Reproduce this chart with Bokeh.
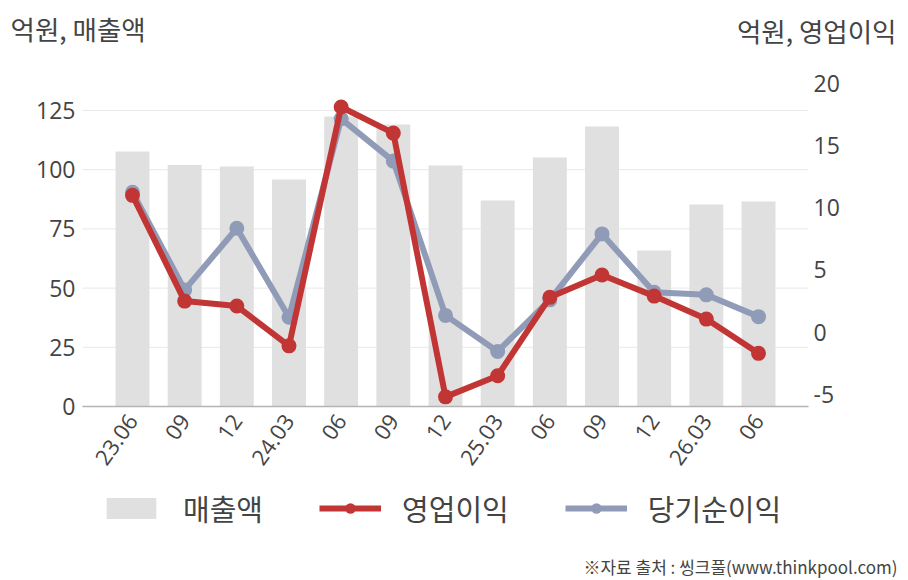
from bokeh.plotting import figure
from bokeh.models import (Range1d, LinearAxis, FixedTicker, Legend, LegendItem,
                          Label)
from bokeh.embed import file_html
from bokeh.resources import INLINE

# ---- data ----
quarters = ["23.06", "09", "12", "24.03", "06", "09", "12",
            "25.03", "06", "09", "12", "26.03", "06"]
sales = [107.7, 102.0, 101.4, 95.9, 122.5, 119.1, 101.8,
         87.0, 105.2, 118.2, 65.9, 85.3, 86.6]
op_income = [11.0, 2.5, 2.1, -1.1, 18.1, 16.0, -5.2,
             -3.5, 2.8, 4.6, 2.9, 1.05, -1.7]
net_income = [11.25, 3.4, 8.35, 1.2, 17.15, 13.75, 1.35,
              -1.55, 2.6, 7.9, 3.2, 3.0, 1.25]
left_ticks = [0, 25, 50, 75, 100, 125]
right_ticks = [-5, 0, 5, 10, 15, 20]

xs = list(range(len(quarters)))

BAR = "#e0e0e0"
RED = "#c23535"
BLUE = "#909cb7"
TXT = "#444444"
FONT = "Open Sans"
KFONT = "Noto Sans CJK KR"

W, H = 908, 580
# chart area edges in data units (x); ranges chosen so that the frame fills the canvas
X_LEFT, X_RIGHT = -0.958, 12.958

p = figure(width=W, height=H, output_backend="svg", toolbar_location=None,
           x_range=Range1d(-2.530, 14.875), y_range=Range1d(-73.48, 171.45),
           min_border=0, min_border_left=0, min_border_right=0,
           min_border_top=0, min_border_bottom=0)
p.extra_y_ranges = {"right": Range1d(-19.96, 26.66)}
p.outline_line_color = None
p.background_fill_color = "white"
p.border_fill_color = "white"
p.xgrid.grid_line_color = None
p.ygrid.grid_line_color = None

# horizontal grid lines at the left-axis ticks, limited to the chart area
p.segment(x0=X_LEFT, x1=X_RIGHT, y0=left_ticks, y1=left_ticks,
          line_color="#e8e8e8", line_width=1)

bars = p.vbar(x=xs, top=sales, width=0.65, fill_color=BAR, line_color=None)
net_line = p.line(xs, net_income, y_range_name="right", line_color=BLUE, line_width=6)
net_pts = p.scatter(xs, net_income, y_range_name="right", size=15,
                    fill_color=BLUE, line_color=None)
op_line = p.line(xs, op_income, y_range_name="right", line_color=RED, line_width=6)
op_pts = p.scatter(xs, op_income, y_range_name="right", size=15,
                   fill_color=RED, line_color=None)

# x axis (drawn at y = 0)
xa = p.xaxis[0]
xa.fixed_location = 0
xa.bounds = (X_LEFT, X_RIGHT)
xa.ticker = FixedTicker(ticks=xs)
xa.major_label_overrides = {i: q for i, q in zip(xs, quarters)}
xa.major_label_orientation = 0.96
xa.major_tick_line_color = None
xa.major_tick_out = 0
xa.major_tick_in = 0
xa.minor_tick_line_color = None
xa.axis_line_color = "#b4b4b4"
xa.axis_line_width = 1.5
xa.major_label_text_font = FONT
xa.major_label_text_font_size = "22px"
xa.major_label_text_color = TXT
xa.major_label_standoff = 10

# left axis
ya = p.yaxis[0]
ya.fixed_location = X_LEFT
ya.ticker = FixedTicker(ticks=left_ticks)
ya.major_tick_line_color = None
ya.major_tick_out = 0
ya.major_tick_in = 0
ya.minor_tick_line_color = None
ya.axis_line_color = None
ya.major_label_text_font = FONT
ya.major_label_text_font_size = "23px"
ya.major_label_text_color = TXT
ya.major_label_standoff = 7

# right axis
ra = LinearAxis(y_range_name="right", ticker=FixedTicker(ticks=right_ticks))
ra.fixed_location = X_RIGHT
ra.major_label_overrides = {-5: "-5"}
ra.major_tick_line_color = None
ra.major_tick_out = 0
ra.major_tick_in = 0
ra.minor_tick_line_color = None
ra.axis_line_color = None
ra.major_label_text_font = FONT
ra.major_label_text_font_size = "23px"
ra.major_label_text_color = TXT
ra.major_label_standoff = 5
p.add_layout(ra, "right")

legend = Legend(items=[
    LegendItem(label="매출액", renderers=[bars]),
    LegendItem(label="영업이익", renderers=[op_line, op_pts]),
    LegendItem(label="당기순이익", renderers=[net_line, net_pts]),
], orientation="horizontal", location=(100, 51))
legend.label_text_font = KFONT
legend.label_text_font_size = "29px"
legend.label_text_color = TXT
legend.label_height = 32
legend.glyph_width = 62
legend.glyph_height = 26
legend.spacing = 56
legend.label_standoff = 21
legend.border_line_color = None
legend.background_fill_alpha = 0
legend.margin = 0
legend.padding = 0
p.add_layout(legend)

src = Label(x=897, y=14, x_units="screen", y_units="screen",
            text="※자료 출처 : 씽크풀(www.thinkpool.com)", text_align="right",
            text_baseline="middle",
            text_font=KFONT, text_font_size="17px", text_color=TXT)
lt = Label(x=10, y=H - 28, x_units="screen", y_units="screen",
           text="억원, 매출액", text_font=KFONT, text_font_size="26.5px",
           text_color=TXT, text_baseline="middle")
rt = Label(x=896, y=H - 30, x_units="screen", y_units="screen",
           text="억원, 영업이익", text_font=KFONT, text_font_size="26.5px",
           text_color=TXT, text_align="right", text_baseline="middle")
p.add_layout(src)
p.add_layout(lt)
p.add_layout(rt)

open("out.html", "w").write(file_html(p, INLINE))
